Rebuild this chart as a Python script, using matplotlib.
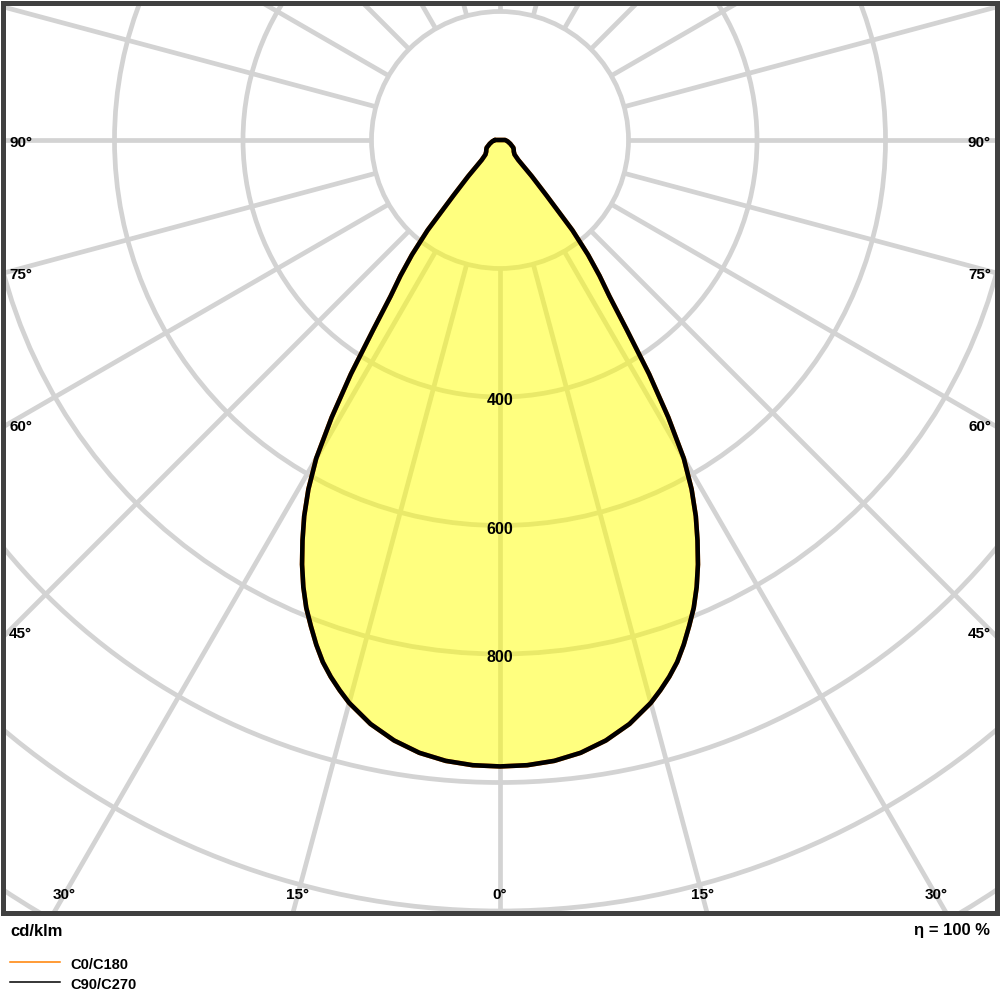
import numpy as np
import matplotlib.pyplot as plt
from matplotlib.lines import Line2D
from matplotlib.patches import Circle

plt.rcParams['font.family'] = ['Liberation Sans', 'DejaVu Sans']

# luminous intensity, cd/klm (both C planes look the same)
gamma = [0, 2.5, 5, 7.5, 10, 12.5, 15, 16.25, 17.5, 18.75, 20, 21.25, 22.5, 23.75,
         25, 26.25, 27.5, 28.75, 30, 31.25, 32.5, 33.75, 35, 36.25, 37.5, 38.75,
         40, 41.25, 42.5, 45, 50, 55, 60, 70, 80, 90]
c0_c180 = [975, 974, 970, 962, 949, 931, 907, 892, 876, 858, 836, 812, 788, 760,
           729, 695, 660, 620, 572, 505, 432, 355, 297, 262, 225, 180,
           112, 75, 42, 32, 28, 26, 24, 17, 12, 8]
c90_c270 = [975, 974, 970, 962, 949, 931, 907, 892, 876, 858, 836, 812, 788, 760,
            729, 695, 660, 620, 572, 505, 432, 355, 297, 262, 225, 180,
            112, 75, 42, 32, 28, 26, 24, 17, 12, 8]

rings = [200, 400, 600, 800, 1000, 1200, 1400, 1600, 1800]
ring_labels = [400, 600, 800]
angle_labels = [0, 15, 30, 45, 60, 75, 90]
spokes = list(range(0, 360, 15))
efficiency = 100

# layout (pixels of the 1000x1000 picture)
px = 0.6425          # pixels per cd/klm
cx, cy = 500, 140    # pole of the diagram
left, right, top, bottom = 2.5, 997.5, 2.5, 912.5

fig = plt.figure(figsize=(10, 10), dpi=100)
ax = fig.add_axes([left / 1000, 1 - bottom / 1000, (right - left) / 1000, (bottom - top) / 1000])
ax.set_xlim((left - cx) / px, (right - cx) / px)
ax.set_ylim(-(bottom - cy) / px, (cy - top) / px)
ax.set_xticks([])
ax.set_yticks([])
for s in ax.spines.values():
    s.set_color('#404040')
    s.set_linewidth(3.6)

grid_col = '#d3d3d3'
for r in rings:
    ax.add_patch(Circle((0, 0), r, fill=False, edgecolor=grid_col, linewidth=3.4, zorder=1))
for a in spokes:
    t = np.radians(a)
    ax.plot([rings[0] * np.sin(t), rings[-1] * np.sin(t)],
            [-rings[0] * np.cos(t), -rings[-1] * np.cos(t)],
            color=grid_col, linewidth=3.4, zorder=1, solid_capstyle='butt')

def outline(vals):
    t = np.radians(gamma)
    v = np.array(vals, dtype=float)
    x = np.concatenate([-(v * np.sin(t))[::-1], v * np.sin(t)])
    y = np.concatenate([-(v * np.cos(t))[::-1], -v * np.cos(t)])
    # close the loop at the top
    return np.append(x, x[0]), np.append(y, y[0])

x0, y0 = outline(c0_c180)
x9, y9 = outline(c90_c270)
ax.fill(x9, y9, color='yellow', alpha=0.5, linewidth=0, zorder=2)
ax.plot(x0, y0, color='#ff8000', linewidth=3.3, zorder=3,
        solid_joinstyle='round', solid_capstyle='round')
ax.plot(x9, y9, color='black', linewidth=3.3, zorder=4,
        solid_joinstyle='round', solid_capstyle='round')

for v in ring_labels:
    ax.text(0, -v - 6, str(v), ha='center', va='center', fontsize=11.5,
            fontweight='bold', zorder=5)

# angle labels where the spokes meet the frame
xe = (9 - cx) / px
yb = -(895 - cy) / px
for a in angle_labels:
    t = np.radians(a)
    xb = -yb * np.tan(t)
    if xb < (right - cx) / px - 40:
        for sgn in ([1] if a == 0 else [-1, 1]):
            ax.text(sgn * xb, yb, f'{a}°', ha='center', va='center',
                    fontsize=11, fontweight='bold', zorder=5)
    else:
        ys = xe * np.cos(t) / np.sin(t) - 5
        ax.text(xe, ys, f'{a}°', ha='left', va='center', fontsize=11,
                fontweight='bold', zorder=5)
        ax.text(-xe, ys, f'{a}°', ha='right', va='center', fontsize=11,
                fontweight='bold', zorder=5)

fig.text(0.010, 0.069, 'cd/klm', ha='left', va='center', fontsize=12, fontweight='bold')
fig.text(0.990, 0.069, f'η = {efficiency} %', ha='right', va='center', fontsize=12,
         fontweight='bold')

fig.add_artist(Line2D([0.010, 0.060], [0.038, 0.038], color='#ff8000', linewidth=1.1))
fig.add_artist(Line2D([0.010, 0.060], [0.018, 0.018], color='black', linewidth=1.1))
fig.text(0.070, 0.035, 'C0/C180', ha='left', va='center', fontsize=10.5, fontweight='bold')
fig.text(0.070, 0.015, 'C90/C270', ha='left', va='center', fontsize=10.5, fontweight='bold')

fig.savefig('out.png', dpi=100)
